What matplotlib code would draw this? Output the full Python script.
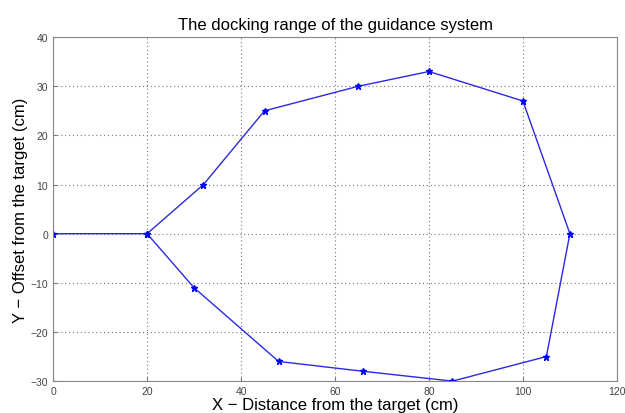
import matplotlib
matplotlib.use("Agg")
import matplotlib.pyplot as plt

plt.rcParams['font.family'] = ['Liberation Sans', 'DejaVu Sans']

# docking range boundary (cm)
x_cm = [0, 20, 32, 45, 65, 80, 100, 110, 105, 85, 66, 48, 30, 20]
y_cm = [0, 0, 10, 25, 30, 33, 27, 0, -25, -30, -28, -26, -11, 0]

xticks = [0, 20, 40, 60, 80, 100, 120]
yticks = [-30, -20, -10, 0, 10, 20, 30, 40]

fig = plt.figure(figsize=(6.25, 4.14), dpi=100)
ax = fig.add_axes([0.085, 0.077, 0.902, 0.831])

ax.plot(x_cm, y_cm, color='#2a2ae0', lw=1.0, marker='*', ms=5,
        markerfacecolor='#0000ff', markeredgecolor='#0000ff')

ax.set_xlim(0, 120)
ax.set_ylim(-30, 40)
ax.set_xticks(xticks)
ax.set_yticks(yticks)
ax.grid(True, linestyle=(0, (1, 2.5)), color='#777777', lw=0.8)
ax.tick_params(direction='in', labelsize=7.5, labelcolor='#444444', length=3,
               color='#777777')
for s in ax.spines.values():
    s.set_color('#888888')

ax.set_title('The docking range of the guidance system', fontsize=12, pad=6)
ax.set_xlabel('X − Distance from the target (cm)', fontsize=12, labelpad=1)
ax.set_ylabel('Y − Offset from the target (cm)', fontsize=12, labelpad=2)

fig.savefig('out.png', dpi=100)
